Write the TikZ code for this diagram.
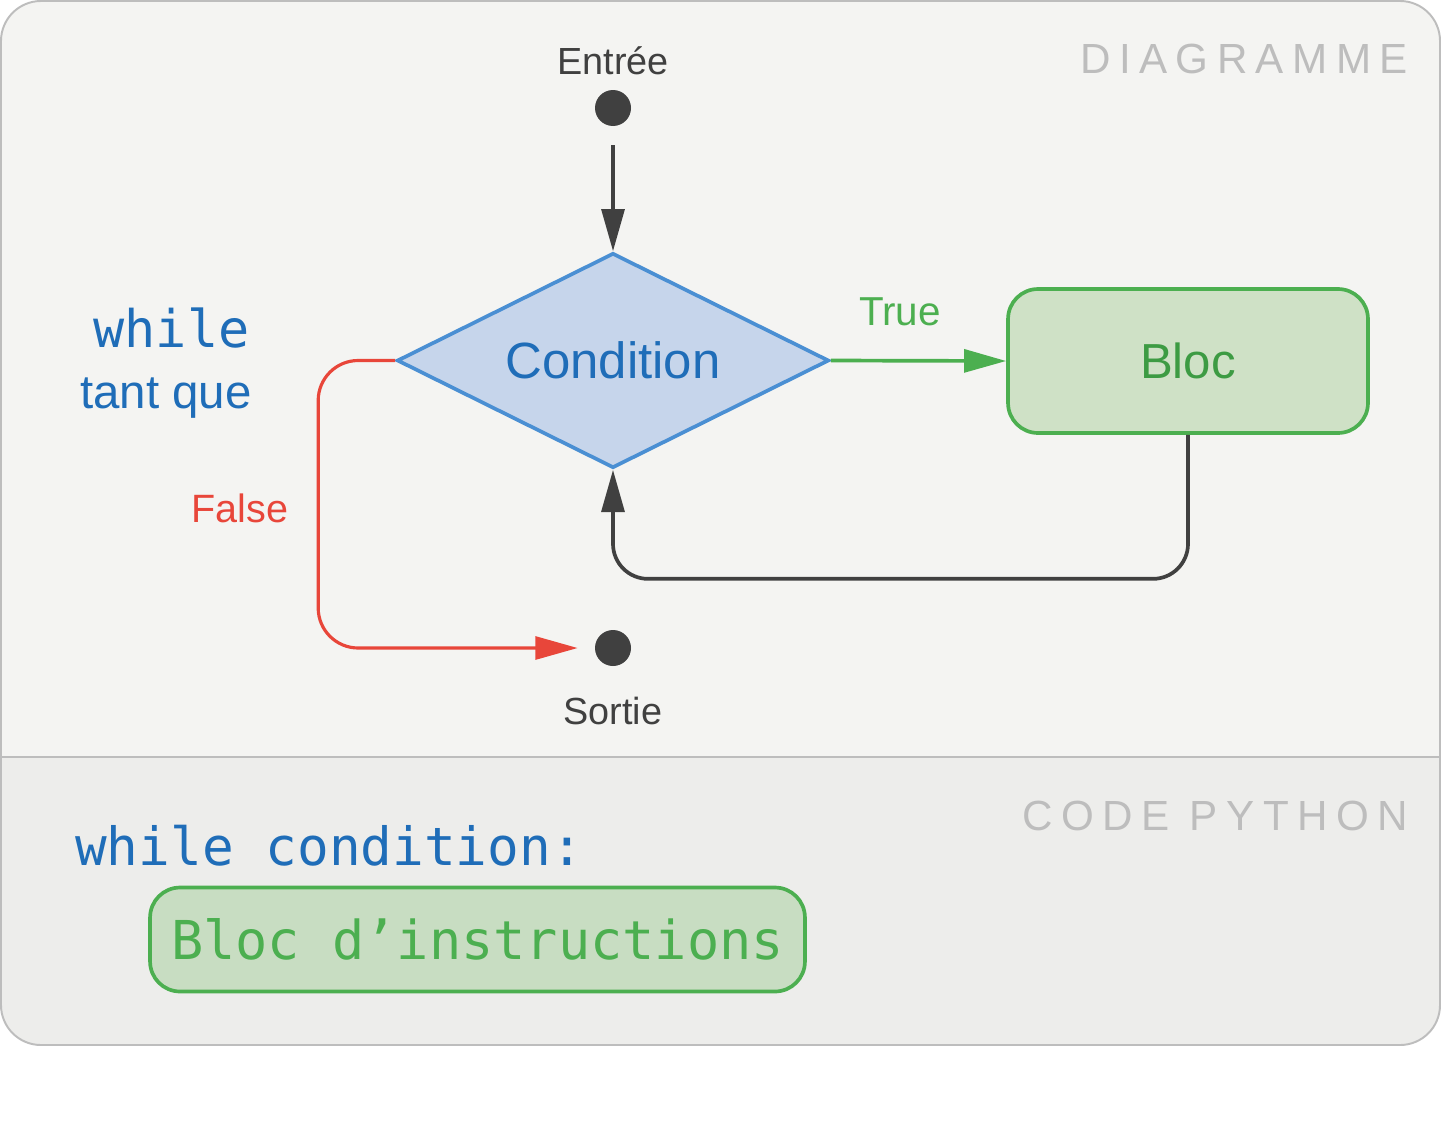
\documentclass[tikz,border=0pt]{standalone}
\usepackage{fontspec}
\setmainfont{Liberation Sans}
\newfontfamily\codefont{DejaVu Sans Mono}
\newfontfamily\spacedfont[LetterSpace=20]{Liberation Sans}
\usetikzlibrary{arrows.meta,shapes.geometric}
\definecolor{Ink}{HTML}{404040}
\definecolor{CodeBlue}{HTML}{1F6DB8}
\definecolor{CondFill}{HTML}{C6D5EB}
\definecolor{CondLine}{HTML}{4A8FD3}
\definecolor{Leaf}{HTML}{4CAF50}
\definecolor{LeafFill}{HTML}{CFE1C6}
\definecolor{LeafText}{HTML}{3D9B43}
\definecolor{CodeFill}{HTML}{C8DDC2}
\definecolor{Alarm}{HTML}{E8463A}
\definecolor{Faint}{HTML}{BDBDBD}
\definecolor{PaneHigh}{HTML}{F4F4F2}
\definecolor{PaneLow}{HTML}{EDEDEB}

\begin{document}
\begin{tikzpicture}[x=0.02cm,y=-0.02cm,
    endpoint/.style={circle,fill=Ink,minimum size=0.72cm,inner sep=0pt},
    lbl/.style={anchor=base,text=Ink,font=\fontsize{21.5}{26}\selectfont},
    section/.style={anchor=base east,text=Faint,font=\spacedfont\fontsize{24}{28}\selectfont},
    decision/.style={diamond,aspect=2,draw=CondLine,fill=CondFill,line width=2.1pt,
      minimum width=8.64cm,minimum height=4.3cm,inner sep=0pt,
      text=CodeBlue,font=\fontsize{29}{34}\selectfont},
    block/.style={rectangle,rounded corners=0.6cm,draw=Leaf,fill=LeafFill,line width=2.1pt,
      minimum width=7.2cm,minimum height=2.88cm,text=LeafText,font=\fontsize{28}{34}\selectfont},
    codebox/.style={rectangle,rounded corners=0.6cm,draw=Leaf,fill=CodeFill,line width=2.1pt,
      minimum width=13.1cm,minimum height=2.08cm,text=Leaf,font=\codefont\fontsize{30.5}{36}\selectfont},
    flow/.style={draw=Ink,line width=2.1pt,-{Triangle[length=24pt,width=13pt]}},
    yesflow/.style={draw=Leaf,line width=2.1pt,-{Triangle[length=24pt,width=13pt]}},
    noflow/.style={draw=Alarm,line width=1.8pt,-{Triangle[length=24pt,width=13pt]}}]
  \useasboundingbox (0,0) rectangle (1442,1136);
  \fill[white] (0,0) rectangle (1442,1136);
  \fill[PaneLow,rounded corners=0.8cm] (1,1) rectangle (1440,1045);
  \begin{scope}
    \clip[rounded corners=0.8cm] (1,1) rectangle (1440,1045);
    \fill[PaneHigh] (0,0) rectangle (1442,757);
  \end{scope}
  \draw[Faint,line width=0.85pt] (1,757) -- (1440,757);
  \draw[Faint,line width=1.1pt,rounded corners=0.8cm] (1,1) rectangle (1440,1045);

  \node[section] (diaglbl) at (1414,73) {DIAGRAMME};
  \node[section] (codelbl) at (1414,830) {CODE PYTHON};

  \node[endpoint] (entree) at (613,108) {};
  \node[lbl] (entreelbl) at (613,74) {Entrée};
  \node[decision] (cond) at (613,360.5) {Condition};
  \node[block] (bloc) at (1188,361) {Bloc};
  \node[endpoint] (sortie) at (613,648) {};
  \node[lbl] (sortielbl) at (613,724) {Sortie};
  \node[anchor=base,text=Leaf,font=\fontsize{23}{28}\selectfont] (truelbl) at (900,325) {True};
  \node[anchor=base,text=Alarm,font=\fontsize{22.5}{27}\selectfont] (falselbl) at (240,522) {False};
  \node[anchor=base,text=CodeBlue,font=\codefont\fontsize{29.5}{34}\selectfont] (whilekw) at (171.5,347) {while};
  \node[anchor=base,text=CodeBlue,font=\fontsize{27}{32}\selectfont] (tantque) at (166,408) {tant que};

  \draw[flow,shorten <=0.38cm] (entree) -- (cond.north);
  \draw[yesflow] (cond.east) -- (bloc.west);
  \draw[flow,rounded corners=0.7cm] (bloc.south) -- ++(0,144) -| (cond.south);
  \draw[noflow,rounded corners=0.8cm,shorten >=0.34cm] (cond.west) -- ++(-77,0) |- (sortie.west);

  \node[anchor=base west,text=CodeBlue,font=\codefont\fontsize{30}{36}\selectfont] (codeline) at (69,865) {while condition:};
  \node[codebox] (codeblock) at (477.5,939.5) {Bloc d’instructions};
\end{tikzpicture}
\end{document}
